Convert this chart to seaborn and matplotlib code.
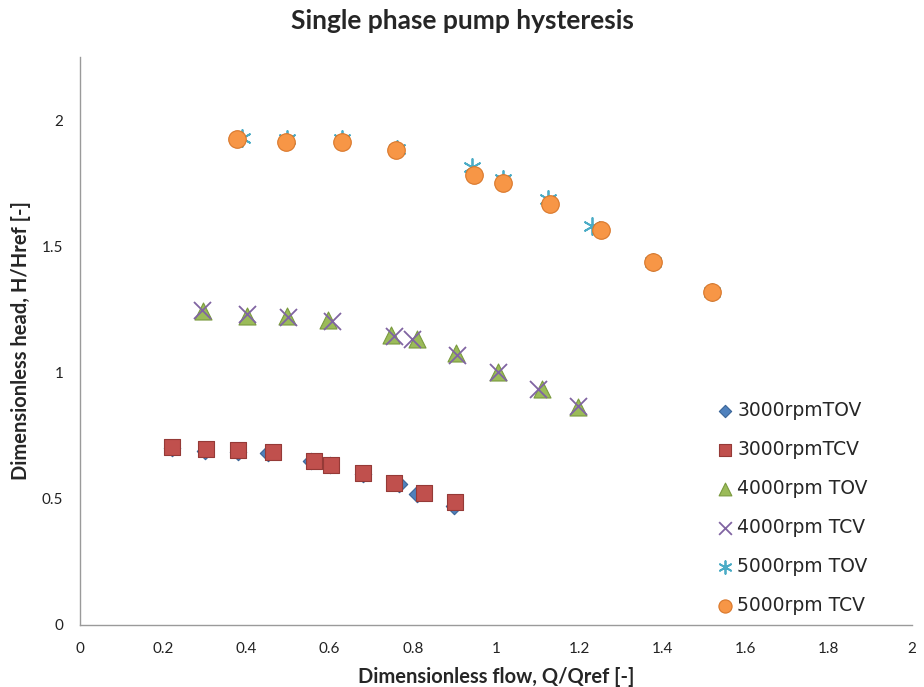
import matplotlib
matplotlib.use("Agg")
import matplotlib.pyplot as plt
import seaborn as sns
import pandas as pd

# values
q_3000_tov = [0.22, 0.30, 0.38, 0.452, 0.555, 0.60, 0.68, 0.768, 0.81, 0.90]
h_3000_tov = [0.70, 0.69, 0.685, 0.68, 0.65, 0.635, 0.60, 0.56, 0.52, 0.47]
q_3000_tcv = [0.221, 0.303, 0.380, 0.464, 0.563, 0.603, 0.680, 0.755, 0.827, 0.901]
h_3000_tcv = [0.706, 0.698, 0.694, 0.687, 0.651, 0.635, 0.603, 0.563, 0.524, 0.488]
q_4000_tov = [0.296, 0.401, 0.498, 0.596, 0.748, 0.810, 0.904, 1.005, 1.111, 1.197]
h_4000_tov = [1.242, 1.226, 1.226, 1.210, 1.147, 1.131, 1.079, 1.004, 0.933, 0.865]
q_4000_tcv = [0.293, 0.401, 0.500, 0.606, 0.755, 0.798, 0.906, 1.005, 1.101, 1.197]
h_4000_tcv = [1.246, 1.230, 1.222, 1.206, 1.143, 1.131, 1.071, 1.004, 0.933, 0.869]
q_5000_tov = [0.389, 0.498, 0.630, 0.762, 0.942, 1.017, 1.125, 1.231, 1.377, 1.519]
h_5000_tov = [1.929, 1.925, 1.925, 1.885, 1.813, 1.766, 1.687, 1.579, 1.437, 1.321]
q_5000_tcv = [0.377, 0.495, 0.630, 0.760, 0.947, 1.017, 1.130, 1.252, 1.377, 1.519]
h_5000_tcv = [1.925, 1.913, 1.913, 1.881, 1.782, 1.750, 1.667, 1.563, 1.437, 1.321]

series_names = ["3000rpmTOV", "3000rpmTCV", "4000rpm TOV",
                "4000rpm TCV", "5000rpm TOV", "5000rpm TCV"]
x_ticks = [0, 0.2, 0.4, 0.6, 0.8, 1, 1.2, 1.4, 1.6, 1.8, 2]
y_ticks = [0, 0.5, 1, 1.5, 2]

series_data = [
    (q_3000_tov, h_3000_tov),
    (q_3000_tcv, h_3000_tcv),
    (q_4000_tov, h_4000_tov),
    (q_4000_tcv, h_4000_tcv),
    (q_5000_tov, h_5000_tov),
    (q_5000_tcv, h_5000_tcv),
]

# marker, colour, edge colour, size, filled
styles = {
    "3000rpmTOV": ("D", "#4F81BD", "#3A6497", 70, True),
    "3000rpmTCV": ("s", "#C0504D", "#953A37", 130, True),
    "4000rpm TOV": ("^", "#9BBB59", "#7A9A3E", 150, True),
    "4000rpm TCV": ("x", "#8064A2", None, 150, False),
    "5000rpm TOV": ((6, 2, 0), "#4BACC6", None, 150, False),
    "5000rpm TCV": ("o", "#F79646", "#D9772A", 160, True),
}

sns.set_style("white")
plt.rcParams["font.family"] = ["Lato", "DejaVu Sans"]

fig, ax = plt.subplots(figsize=(9.24, 6.87), dpi=100)
fig.subplots_adjust(left=80 / 924, right=912 / 924, bottom=1 - 625 / 687, top=1 - 57 / 687)

for name, (q, h) in zip(series_names, series_data):
    df = pd.DataFrame({"Q": q, "H": h})
    marker, color, edge, size, filled = styles[name]
    if filled:
        sns.scatterplot(data=df, x="Q", y="H", ax=ax, marker=marker, s=size,
                        color=color, edgecolor=edge, linewidth=0.8, label=name)
    else:
        sns.scatterplot(data=df, x="Q", y="H", ax=ax, marker=marker, s=size,
                        color=color, linewidth=1.3, label=name)

ax.set_xlim(0, 2)
ax.set_ylim(0, 2.25)
ax.set_xticks(x_ticks)
ax.set_xticklabels([f"{t:g}" for t in x_ticks])
ax.set_yticks(y_ticks)
ax.set_yticklabels([f"{t:g}" for t in y_ticks])
ax.tick_params(axis="x", length=0, labelsize=11, colors="#222222", pad=12)
ax.tick_params(axis="y", length=0, labelsize=11, colors="#222222", pad=12)

for side in ["top", "right"]:
    ax.spines[side].set_visible(False)
for side in ["left", "bottom"]:
    ax.spines[side].set_color("#9a9a9a")
    ax.spines[side].set_linewidth(1.0)

ax.set_xlabel("Dimensionless flow, Q/Qref [-]", fontsize=14.5, fontweight="bold", labelpad=8)
ax.set_ylabel("Dimensionless head, H/Href [-]", fontsize=14.5, fontweight="bold", labelpad=8)
fig.suptitle("Single phase pump hysteresis", fontsize=19, fontweight="bold", y=1 - 21 / 687, va="center")

leg = ax.legend(loc="center left", bbox_to_anchor=(699 / 924, 1 - 508 / 687),
                bbox_transform=fig.transFigure, frameon=False,
                prop={"family": "DejaVu Sans", "size": 13.5},
                labelspacing=1.07, handletextpad=0.15, handlelength=1.0, markerscale=0.75)

fig.savefig("out.png", dpi=100)
